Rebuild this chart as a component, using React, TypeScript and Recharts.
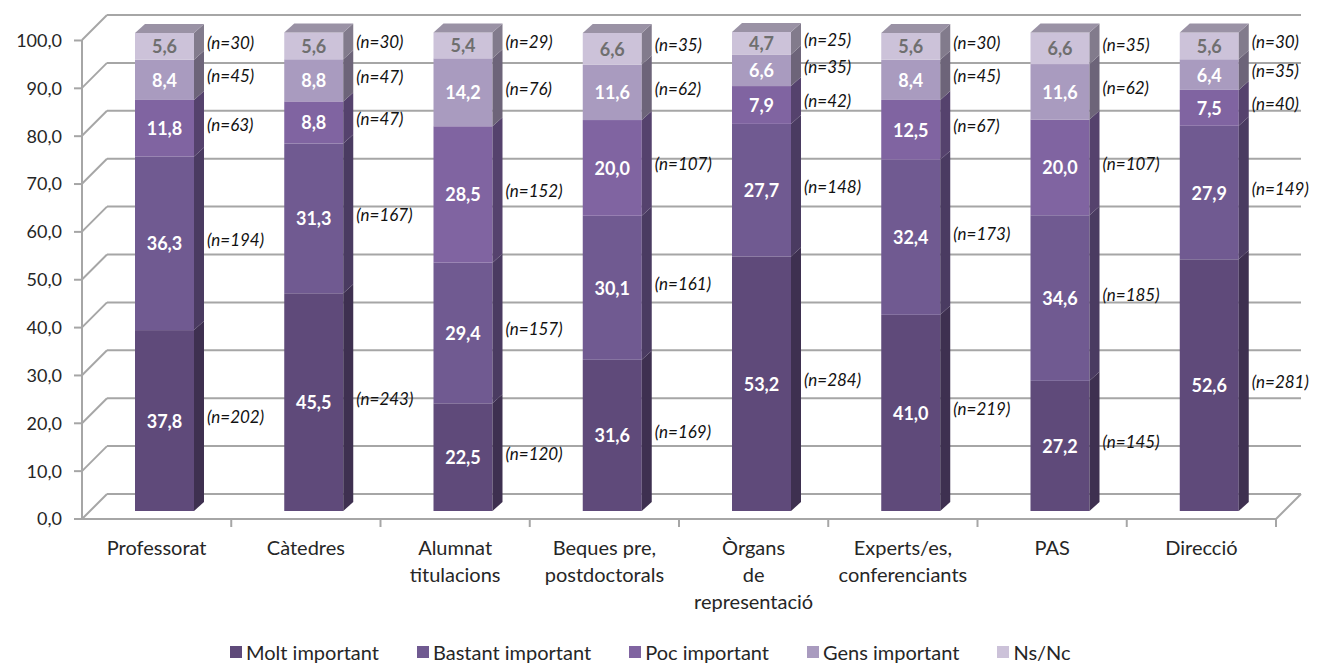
import React from 'react';
import { BarChart, Bar, XAxis, YAxis, LabelList } from 'recharts';

// Categories (line breaks split the axis labels)
const categories = [
  'Professorat',
  'Càtedres',
  'Alumnat\ntitulacions',
  'Beques pre,\npostdoctorals',
  'Òrgans\nde\nrepresentació',
  'Experts/es,\nconferenciants',
  'PAS',
  'Direcció',
];

// Percentages per answer
const moltImportant = [37.8, 45.5, 22.5, 31.6, 53.2, 41.0, 27.2, 52.6];
const bastantImportant = [36.3, 31.3, 29.4, 30.1, 27.7, 32.4, 34.6, 27.9];
const pocImportant = [11.8, 8.8, 28.5, 20.0, 7.9, 12.5, 20.0, 7.5];
const gensImportant = [8.4, 8.8, 14.2, 11.6, 6.6, 8.4, 11.6, 6.4];
const nsNc = [5.6, 5.6, 5.4, 6.6, 4.7, 5.6, 6.6, 5.6];

// Respondent counts per answer
const nMolt = [202, 243, 120, 169, 284, 219, 145, 281];
const nBastant = [194, 167, 157, 161, 148, 173, 185, 149];
const nPoc = [63, 47, 152, 107, 42, 67, 107, 40];
const nGens = [45, 47, 76, 62, 35, 45, 62, 35];
const nNsNc = [30, 30, 29, 35, 25, 30, 35, 30];

const yTicks = [0, 10, 20, 30, 40, 50, 60, 70, 80, 90, 100];

const data = categories.map((cat, i) => ({
  cat,
  molt: moltImportant[i],
  bastant: bastantImportant[i],
  poc: pocImportant[i],
  gens: gensImportant[i],
  nsnc: nsNc[i],
  nMolt: nMolt[i],
  nBastant: nBastant[i],
  nPoc: nPoc[i],
  nGens: nGens[i],
  nNsNc: nNsNc[i],
}));

const series = [
  { key: 'molt', nKey: 'nMolt', name: 'Molt important', front: '#5f4a7a', side: '#3e3050', text: '#ffffff' },
  { key: 'bastant', nKey: 'nBastant', name: 'Bastant important', front: '#705a91', side: '#4a3b61', text: '#ffffff' },
  { key: 'poc', nKey: 'nPoc', name: 'Poc important', front: '#8064a1', side: '#55426d', text: '#ffffff' },
  { key: 'gens', nKey: 'nGens', name: 'Gens important', front: '#a99bbf', side: '#6d6479', text: '#ffffff' },
  { key: 'nsnc', nKey: 'nNsNc', name: 'Ns/Nc', front: '#ccc2d9', side: '#827b8c', text: '#6f6f6f' },
];
const TOP_COLOR = '#9a92a5';

// layout
const W = 1325;
const H = 666;
const Y_AXIS_W = 82;
const X_AXIS_H = 147;
const MARGIN = { top: 40, right: 49, bottom: 0, left: 0 };
const PLOT_L = Y_AXIS_W;
const PLOT_R = W - MARGIN.right;
const PLOT_T = MARGIN.top;
const PLOT_B = H - X_AXIS_H;
const WALL = 25; // depth of the back wall
const SHIFT = 8; // bars sit a little behind the front plane
const BD_X = 10; // bar depth
const BD_Y = 9;
const GRID = '#a6a6a6';
const FONT = 'Lato, "DejaVu Sans", sans-serif';

const fmt = (v: number) => v.toFixed(1).replace('.', ',');
const yOf = (v: number) => PLOT_B - ((PLOT_B - PLOT_T) * v) / 100;

// back wall, floor and boundary ticks
const Walls = () => {
  const band = (PLOT_R - PLOT_L) / categories.length;
  return (
    <svg width={W} height={H} style={{ position: 'absolute', left: 0, top: 0 }}>
      {yTicks.map((t) => {
        const y = yOf(t);
        return (
          <g key={t} stroke={GRID} strokeWidth={2} fill="none">
            <line x1={PLOT_L} y1={y} x2={PLOT_L + WALL} y2={y - WALL} />
            <line x1={PLOT_L + WALL} y1={y - WALL} x2={PLOT_R + WALL} y2={y - WALL} />
          </g>
        );
      })}
      <line x1={PLOT_R} y1={PLOT_B} x2={PLOT_R + WALL} y2={PLOT_B - WALL} stroke={GRID} strokeWidth={2} />
      {categories.map((_, i) => (
        <line
          key={i}
          x1={PLOT_L + band * (i + 1)}
          y1={PLOT_B}
          x2={PLOT_L + band * (i + 1)}
          y2={PLOT_B + 8}
          stroke={GRID}
          strokeWidth={2}
        />
      ))}
    </svg>
  );
};

const make3DShape = (front: string, side: string, isTop: boolean) => (props: any) => {
  const { x, y, width, height } = props;
  if (!height || height <= 0) return <g />;
  const fx = x + SHIFT;
  const fy = y - SHIFT;
  const r = fx + width;
  return (
    <g>
      <rect x={fx} y={fy} width={width} height={height} fill={front} />
      <polygon
        points={`${r},${fy} ${r + BD_X},${fy - BD_Y} ${r + BD_X},${fy + height - BD_Y} ${r},${fy + height}`}
        fill={side}
      />
      {isTop && (
        <polygon
          points={`${fx},${fy} ${fx + BD_X},${fy - BD_Y} ${r + BD_X},${fy - BD_Y} ${r},${fy}`}
          fill={TOP_COLOR}
        />
      )}
    </g>
  );
};

const valueLabel = (color: string) => (props: any) => {
  const { x, y, width, height, value } = props;
  return (
    <text
      x={x + SHIFT + width / 2}
      y={y - SHIFT + height / 2}
      textAnchor="middle"
      dominantBaseline="central"
      fill={color}
      fontFamily={FONT}
      fontWeight={700}
      fontSize={18}
    >
      {fmt(Number(value))}
    </text>
  );
};

const countLabel = (props: any) => {
  const { x, y, width, height, value } = props;
  return (
    <text
      x={x + SHIFT + width + BD_X + 3}
      y={y + height / 2 - 12}
      dominantBaseline="central"
      fill="#111111"
      fontFamily={FONT}
      fontStyle="italic"
      fontSize={17}
    >
      {`(n=${value})`}
    </text>
  );
};

const CategoryTick = (props: any) => {
  const { x, payload } = props;
  const lines = String(payload.value).split('\n');
  return (
    <text x={x} y={PLOT_B + 36} textAnchor="middle" fill="#262626" fontFamily={FONT} fontSize={20}>
      {lines.map((l, i) => (
        <tspan key={i} x={x} dy={i === 0 ? 0 : 27}>
          {l}
        </tspan>
      ))}
    </text>
  );
};

export default function App() {
  return (
    <div style={{ position: 'absolute', left: 0, top: 0, width: W, height: H, background: '#ffffff' }}>
      <Walls />
      <div style={{ position: 'absolute', left: 0, top: 0 }}>
        <BarChart width={W} height={H} data={data} margin={MARGIN} barSize={59}>
          <XAxis
            dataKey="cat"
            height={X_AXIS_H}
            axisLine={{ stroke: GRID, strokeWidth: 2 }}
            tickLine={false}
            tick={<CategoryTick />}
            interval={0}
          />
          <YAxis
            type="number"
            domain={[0, 100]}
            ticks={yTicks}
            width={Y_AXIS_W}
            axisLine={{ stroke: GRID, strokeWidth: 2 }}
            tickLine={{ stroke: GRID, strokeWidth: 2 }}
            tickSize={8}
            tickMargin={12}
            tickFormatter={fmt}
            tick={{ fill: '#262626', fontSize: 18, fontFamily: FONT }}
          />
          {series.map((s, i) => (
            <Bar
              key={s.key}
              dataKey={s.key}
              name={s.name}
              stackId="a"
              fill={s.front}
              isAnimationActive={false}
              shape={make3DShape(s.front, s.side, i === series.length - 1)}
            >
              <LabelList dataKey={s.key} content={valueLabel(s.text)} />
              <LabelList dataKey={s.nKey} content={countLabel} />
            </Bar>
          ))}
        </BarChart>
      </div>
      <div
        style={{
          position: 'absolute',
          left: 230,
          top: 640,
          display: 'flex',
          gap: 38,
          fontFamily: FONT,
          fontSize: 20,
          color: '#262626',
          lineHeight: '24px',
          whiteSpace: 'nowrap',
        }}
      >
        {series.map((s) => (
          <div key={s.key} style={{ display: 'flex', alignItems: 'center' }}>
            <span style={{ width: 12, height: 12, background: s.front, marginRight: 4, display: 'inline-block' }} />
            <span>{s.name}</span>
          </div>
        ))}
      </div>
    </div>
  );
}
